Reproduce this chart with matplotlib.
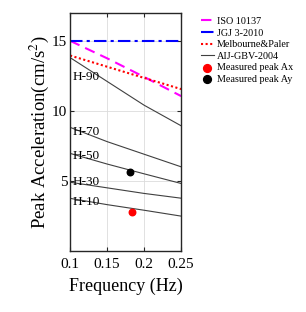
import matplotlib
matplotlib.use("Agg")
import matplotlib.pyplot as plt

plt.rcParams['font.family'] = ['Liberation Serif', 'DejaVu Serif']
plt.rcParams['mathtext.fontset'] = 'stix'

# frequency grid (Hz)
freq = [0.1, 0.15, 0.2, 0.25]

iso_freq = [0.1, 0.15, 0.2, 0.25]
iso_acc = [15.0, 13.75, 12.42, 11.05]

jgj_freq = [0.1, 0.25]
jgj_acc = [15.0, 15.0]

mel_freq = [0.1, 0.25]
mel_acc = [13.95, 11.55]

# AIJ-GBV-2004 curves
aij_labels = ['H-90', 'H-70', 'H-50', 'H-30', 'H-10']
aij_acc = {
    'H-90': [13.8, 12.1, 10.4, 8.93],
    'H-70': [8.82, 7.8, 6.9, 6.0],
    'H-50': [6.96, 6.2, 5.5, 4.81],
    'H-30': [4.9, 4.5, 4.1, 3.76],
    'H-10': [3.75, 3.3, 2.9, 2.48],
}
label_y = [12.45, 8.5, 6.8, 4.9, 3.5]

ax_freq = [0.184]
ax_acc = [2.8]
ay_freq = [0.181]
ay_acc = [5.6]

fig = plt.figure(figsize=(3.06, 3.12), dpi=100)
ax = fig.add_axes([0.229, 0.196, 0.363, 0.763])

ax.plot(iso_freq, iso_acc, color='magenta', ls=(0, (5, 3)), lw=1.5, label='ISO 10137')
ax.plot(jgj_freq, jgj_acc, color='blue', ls=(0, (6, 2, 1.5, 2)), lw=1.5, label='JGJ 3-2010')
ax.plot(mel_freq, mel_acc, color='red', ls=(0, (1, 1.2)), lw=1.5, label='Melbourne&Paler')
for i, name in enumerate(aij_labels):
    ax.plot(freq, aij_acc[name], color='#404040', lw=0.8,
            label='AIJ-GBV-2004' if i == 0 else None)
    ax.text(0.1035, label_y[i], name, fontsize=9.5, va='center', ha='left')

ax.scatter(ax_freq, ax_acc, color='red', s=22, zorder=5, label='Measured peak Ax')
ax.scatter(ay_freq, ay_acc, color='black', s=22, zorder=5, label='Measured peak Ay')

ax.set_xlim(0.1, 0.25)
ax.set_ylim(0, 17)
ax.set_xticks([0.1, 0.15, 0.2, 0.25])
ax.set_xticklabels(['0.1', '0.15', '0.2', '0.25'])
ax.set_yticks([5, 10, 15])
ax.tick_params(direction='in', top=True, right=True, labelsize=11, length=3,
               color='#262626')
ax.tick_params(axis='x', pad=5)
ax.tick_params(axis='y', pad=2)
ax.grid(True, color='#dcdcdc', lw=0.6)
for s in ax.spines.values():
    s.set_color('#262626')
    s.set_linewidth(1.0)

ax.set_xlabel('Frequency (Hz)', fontsize=13, labelpad=5)
ax.set_ylabel('Peak Acceleration(cm/s$^2$)', fontsize=13.5, labelpad=1)

ax.legend(loc='upper left', bbox_to_anchor=(1.14, 1.0), frameon=False,
          fontsize=7.3, handlelength=1.3, handletextpad=0.3, labelspacing=0.25,
          borderaxespad=0.0, markerscale=1.2)

fig.savefig('out.png', dpi=100)
